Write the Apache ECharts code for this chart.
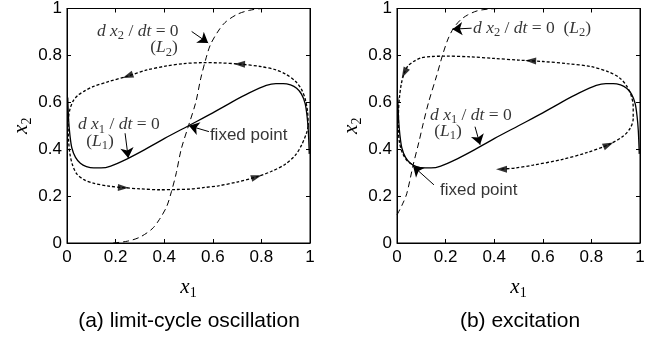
<!DOCTYPE html>
<html><head><meta charset="utf-8">
<script src="https://cdn.jsdelivr.net/npm/echarts@6/dist/echarts.min.js"></script>
<style>html,body{margin:0;padding:0;background:#fff}#c{width:663px;height:341px}</style>
</head><body><div id="c"></div>
<script>
// ---- data ----
// dx1/dt = 0 nullcline (L1), same in both panels
const l1X = [0.003,0.007,0.012,0.02,0.035,0.055,0.08,0.11,0.14,0.18,0.25,0.32,0.4,0.5,0.6,0.68,0.75,0.82,0.86,0.89,0.92,0.945,0.965,0.98,0.988,0.993,0.997];
const l1Y = [0.62,0.52,0.46,0.405,0.365,0.34,0.326,0.32,0.32,0.328,0.36,0.398,0.445,0.5,0.555,0.602,0.64,0.672,0.68,0.68,0.674,0.66,0.635,0.595,0.54,0.48,0.38];
// dx2/dt = 0 nullcline (L2)
const l2aX = [0.19,0.25,0.3,0.35,0.38,0.41,0.43,0.45,0.47,0.5,0.53,0.55,0.57,0.59,0.62,0.65,0.7,0.75,0.81,1.0];
const l2aY = [0.0,0.008,0.025,0.06,0.1,0.155,0.22,0.3,0.4,0.5,0.6,0.7,0.78,0.845,0.9,0.94,0.975,0.992,1.0,1.0];
const l2bX = [0.0,0.02,0.04,0.067,0.09,0.108,0.13,0.163,0.19,0.21,0.232,0.26,0.29,0.33,0.38,0.43,1.0];
const l2bY = [0.12,0.16,0.21,0.335,0.43,0.51,0.6,0.713,0.81,0.87,0.915,0.95,0.972,0.99,0.998,1.0,1.0];
// trajectories
const trajAX = [0.993,0.99,0.98,0.965,0.94,0.9,0.86,0.8,0.71,0.63,0.56,0.48,0.41,0.33,0.25,0.17,0.11,0.075,0.045,0.025,0.012,0.006,0.005,0.007,0.012,0.022,0.04,0.07,0.108,0.17,0.232,0.3,0.383,0.45,0.506,0.56,0.623,0.7,0.78,0.84,0.897,0.94,0.966,0.986,0.993];
const trajAY = [0.50,0.56,0.615,0.655,0.69,0.72,0.738,0.752,0.763,0.768,0.769,0.765,0.755,0.738,0.712,0.688,0.668,0.65,0.63,0.605,0.57,0.53,0.48,0.43,0.38,0.335,0.295,0.27,0.255,0.243,0.236,0.231,0.227,0.228,0.23,0.236,0.244,0.26,0.282,0.305,0.335,0.375,0.419,0.47,0.50];
const trajBX = [0.43,0.486,0.56,0.678,0.78,0.87,0.93,0.96,0.972,0.972,0.965,0.945,0.915,0.87,0.8,0.7,0.6,0.5,0.4,0.3,0.2,0.14,0.1,0.07,0.045,0.03,0.018,0.01,0.006,0.006,0.01,0.02,0.035,0.05,0.065];
const trajBY = [0.315,0.32,0.332,0.356,0.385,0.419,0.455,0.49,0.53,0.58,0.625,0.67,0.705,0.73,0.752,0.765,0.774,0.78,0.787,0.794,0.797,0.795,0.79,0.775,0.755,0.725,0.68,0.62,0.55,0.48,0.43,0.39,0.36,0.343,0.335];
// direction arrows on trajectories
const arrowAX = [0.25,0.71,0.232,0.78];
const arrowAY = [0.712,0.763,0.236,0.282];
const arrowARot = [110,88,-92,-73];
const arrowBX = [0.43,0.87,0.55,0.03];
const arrowBY = [0.315,0.419,0.777,0.725];
const arrowBRot = [90,-66,88,153];
// annotation pointers [fromX, fromY, toX, toY]
const pointersA = [[0.513,0.902,0.581,0.853],[0.239,0.468,0.252,0.363],[0.584,0.475,0.502,0.5]];
const pointersB = [[0.307,0.916,0.228,0.912],[0.321,0.496,0.342,0.419],[0.152,0.248,0.066,0.328]];
// annotation texts
const notesA = [
  {x:0.123,y:0.903,t:'{i|d x}{s|2}{u| / }{i|dt}{u| = 0}',pos:'right'},
  {x:0.399,y:0.832,t:'{u|(}{i|L}{s|2}{u|)}',pos:'inside'},
  {x:0.045,y:0.504,t:'{i|d x}{s|1}{u| / }{i|dt}{u| = 0}',pos:'right'},
  {x:0.136,y:0.433,t:'{u|(}{i|L}{s|1}{u|)}',pos:'inside'},
  {x:0.588,y:0.458,t:'{f|fixed point}',pos:'right'}
];
const notesB = [
  {x:0.313,y:0.916,t:'{i|d x}{s|2}{u| / }{i|dt}{u| = 0  (}{i|L}{s|2}{u|)}',pos:'right'},
  {x:0.136,y:0.546,t:'{i|d x}{s|1}{u| / }{i|dt}{u| = 0}',pos:'right'},
  {x:0.21,y:0.475,t:'{u|(}{i|L}{s|1}{u|)}',pos:'inside'},
  {x:0.177,y:0.223,t:'{f|fixed point}',pos:'right'}
];
const tickStep = 0.2;
const panelTitles = ['(a) limit-cycle oscillation','(b) excitation'];
const xName = '{i|x}{s|1}';
const yName = '{i|x}{s|2}';

// ---- chart ----
const SANS = 'Liberation Sans, Arial, sans-serif';
const SERIF = 'Liberation Serif, Times New Roman, serif';
const rich = {
  i:{fontFamily:SERIF,fontStyle:'italic',fontSize:17.5,color:'#000',lineHeight:22},
  u:{fontFamily:SERIF,fontSize:17.5,color:'#000',lineHeight:22},
  s:{fontFamily:SERIF,fontSize:12.5,color:'#000',lineHeight:12,verticalAlign:'bottom'},
  f:{fontFamily:SANS,fontSize:17,color:'#000'}
};
const nameRich = {
  i:{fontFamily:SERIF,fontStyle:'italic',fontSize:21,color:'#000',lineHeight:26},
  s:{fontFamily:SERIF,fontSize:14,color:'#000',lineHeight:14,verticalAlign:'bottom'}
};
const zip = (xs, ys) => xs.map((x, k) => [x, ys[k]]);
const lineCol = '#000';
function baseAxis(gi, pos, labels) {
  return {
    type:'value', gridIndex:gi, position:pos, min:0, max:1, interval:tickStep,
    axisLine:{show:true,onZero:false,lineStyle:{color:lineCol,width:1}},
    axisTick:{show:true,inside:true,length:4,lineStyle:{color:lineCol,width:1}},
    axisLabel:{show:labels,color:'#000',fontSize:17,fontFamily:SANS,margin:labels ? 6 : 0},
    splitLine:{show:false}
  };
}
const xAxis = [], yAxis = [];
for (let g = 0; g < 2; g++) {
  const xb = baseAxis(g,'bottom',true);
  Object.assign(xb,{name:xName,nameLocation:'middle',nameGap:31,nameTextStyle:{rich:nameRich}});
  xAxis.push(xb, baseAxis(g,'top',false));
  const yl = baseAxis(g,'left',true);
  yl.axisLabel.margin = 5;
  Object.assign(yl,{name:yName,nameLocation:'middle',nameGap:32,nameTextStyle:{rich:nameRich}});
  yAxis.push(yl, baseAxis(g,'right',false));
}
function panelSeries(p, l2x, l2y, tx, ty, ax, ay, ar, pointers, notes) {
  const xi = p*2, yi = p*2;
  return [
    {type:'line',xAxisIndex:xi,yAxisIndex:yi,data:zip(l1X,l1Y),smooth:0.3,symbol:'none',
     lineStyle:{color:lineCol,width:1.3,type:'solid'},z:3,silent:true},
    {type:'line',xAxisIndex:xi,yAxisIndex:yi,data:zip(l2x,l2y),smooth:0.3,symbol:'none',
     lineStyle:{color:lineCol,width:1,type:[6,4]},z:3,silent:true},
    {type:'line',xAxisIndex:xi,yAxisIndex:yi,data:zip(tx,ty),smooth:0.3,symbol:'none',
     lineStyle:{color:lineCol,width:1.3,type:[3,2]},z:3,silent:true},
    {type:'scatter',xAxisIndex:xi,yAxisIndex:yi,symbol:'triangle',symbolSize:[7,11],
     itemStyle:{color:lineCol},z:4,silent:true,
     data:ax.map((x,k)=>({value:[x,ay[k]],symbolRotate:ar[k]}))},
    {type:'lines',coordinateSystem:'cartesian2d',xAxisIndex:xi,yAxisIndex:yi,
     symbol:['none','arrow'],symbolSize:10,z:4,silent:true,
     lineStyle:{color:lineCol,width:1,opacity:1,curveness:0},
     data:pointers.map(q=>({coords:[[q[0],q[1]],[q[2],q[3]]]}))},
    {type:'scatter',xAxisIndex:xi,yAxisIndex:yi,symbolSize:0,z:5,silent:true,
     data:notes.map(n=>({value:[n.x,n.y],label:{show:true,position:n.pos,distance:0,
       formatter:n.t,rich:rich,color:'#000'}}))},
    // invisible series binding the opposite-side axes so they are rendered
    {type:'line',xAxisIndex:xi+1,yAxisIndex:yi+1,data:[],symbol:'none',silent:true}
  ];
}
const gridStyle = {show:true,borderColor:'#000',borderWidth:1,backgroundColor:'transparent'};
const titleStyle = {fontFamily:SANS,fontSize:21,fontWeight:'normal',color:'#000'};
const option = {
  animation:false,
  backgroundColor:'#fff',
  grid:[Object.assign({left:67,top:5,width:243,height:238},gridStyle),
        Object.assign({left:397,top:5,width:243,height:238},gridStyle)],
  title:[
    {text:panelTitles[0],left:189,top:311,padding:0,textAlign:'center',textStyle:titleStyle},
    {text:panelTitles[1],left:520,top:311,padding:0,textAlign:'center',textStyle:titleStyle}
  ],
  xAxis:xAxis, yAxis:yAxis,
  series:[].concat(
    panelSeries(0,l2aX,l2aY,trajAX,trajAY,arrowAX,arrowAY,arrowARot,pointersA,notesA),
    panelSeries(1,l2bX,l2bY,trajBX,trajBY,arrowBX,arrowBY,arrowBRot,pointersB,notesB)
  )
};
const chart = echarts.init(document.getElementById('c'),null,{renderer:'canvas'});
chart.setOption(option);
</script></body></html>
